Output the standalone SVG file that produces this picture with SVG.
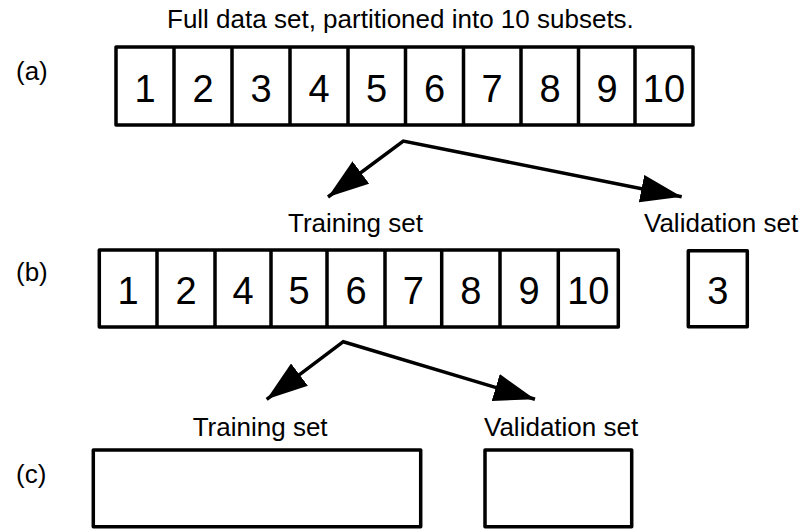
<svg xmlns="http://www.w3.org/2000/svg" width="801" height="529" viewBox="0 0 801 529">
  <style>
    .box { fill: #ffffff; stroke: #000000; stroke-width: 3.5; stroke-linejoin: round; }
    .div { stroke: #000000; stroke-width: 3.5; }
    .num { font-family: "Liberation Sans", Arial, sans-serif; font-size: 38px; fill: #000000; text-anchor: middle; }
    .lbl { font-family: "Liberation Sans", Arial, sans-serif; font-size: 26px; fill: #000000; }
    .conn { fill: none; stroke: #000000; stroke-width: 3.5; stroke-linejoin: miter; }
  </style>
  <defs>
    <marker id="head" markerUnits="userSpaceOnUse" markerWidth="42" markerHeight="28" refX="41" refY="14" orient="auto-start-reverse" viewBox="0 0 42 28">
      <path d="M0,0 L41,14 L0,28 Z" fill="#000000"/>
    </marker>
  </defs>

  <rect width="801" height="529" fill="#ffffff"/>

  <!-- row labels -->
  <text class="lbl" x="167" y="28">Full data set, partitioned into 10 subsets.</text>
  <text class="lbl" x="16" y="80">(a)</text>
  <text class="lbl" x="16" y="281">(b)</text>
  <text class="lbl" x="16" y="483">(c)</text>

  <!-- (a) full data set -->
  <g id="full-set">
    <rect class="box" x="116" y="47" width="577" height="78"/>
    <path class="div" d="M174,47V125 M232,47V125 M290,47V125 M348,47V125 M405.5,47V125 M463.5,47V125 M521,47V125 M578.5,47V125 M635,47V125"/>
    <text class="num" x="145" y="101.5">1</text>
    <text class="num" x="203" y="101.5">2</text>
    <text class="num" x="261" y="101.5">3</text>
    <text class="num" x="319" y="101.5">4</text>
    <text class="num" x="376.5" y="101.5">5</text>
    <text class="num" x="434.5" y="101.5">6</text>
    <text class="num" x="492" y="101.5">7</text>
    <text class="num" x="550" y="101.5">8</text>
    <text class="num" x="607" y="101.5">9</text>
    <text class="num" x="664" y="101.5">10</text>
  </g>

  <!-- (b) training set of nine subsets -->
  <g id="training-b">
    <text class="lbl" x="288" y="231.5">Training set</text>
    <rect class="box" x="99.3" y="250" width="519" height="77"/>
    <path class="div" d="M157,250V327 M215,250V327 M271,250V327 M327,250V327 M385,250V327 M441.7,250V327 M500,250V327 M558.3,250V327"/>
    <text class="num" x="128" y="304">1</text>
    <text class="num" x="186" y="304">2</text>
    <text class="num" x="243" y="304">4</text>
    <text class="num" x="299" y="304">5</text>
    <text class="num" x="356" y="304">6</text>
    <text class="num" x="413.3" y="304">7</text>
    <text class="num" x="470.8" y="304">8</text>
    <text class="num" x="529" y="304">9</text>
    <text class="num" x="588.3" y="304">10</text>
  </g>

  <!-- (b) validation subset -->
  <g id="validation-b">
    <text class="lbl" x="644" y="231.5">Validation set</text>
    <rect class="box" x="688.3" y="250.7" width="59" height="76"/>
    <text class="num" x="717.8" y="304">3</text>
  </g>

  <!-- (c) inner split -->
  <g id="training-c">
    <text class="lbl" x="192.7" y="436">Training set</text>
    <rect class="box" x="93.3" y="450" width="327.4" height="76.7"/>
  </g>
  <g id="validation-c">
    <text class="lbl" x="484" y="436">Validation set</text>
    <rect class="box" x="485" y="450" width="146.7" height="76.7"/>
  </g>

  <!-- connectors -->
  <g id="connectors">
    <path class="conn" d="M328,197 L403.3,141 L681.7,196.7" marker-start="url(#head)" marker-end="url(#head)"/>
    <path class="conn" d="M266.7,399.3 L343.3,341.7 L535,399.3" marker-start="url(#head)" marker-end="url(#head)"/>
  </g>
</svg>
